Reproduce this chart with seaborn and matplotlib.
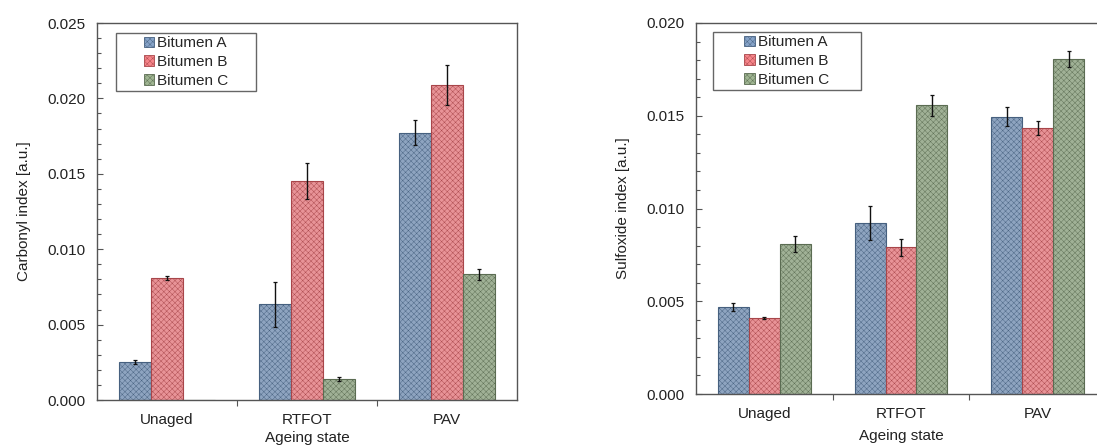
import numpy as np
import pandas as pd
import matplotlib
matplotlib.use("Agg")
import matplotlib.pyplot as plt
from matplotlib.patches import Rectangle, Patch
from matplotlib.ticker import MultipleLocator, FormatStrFormatter, FixedLocator
import seaborn as sns

# --- data -------------------------------------------------------------
states = ["Unaged", "RTFOT", "PAV"]
binders = ["Bitumen A", "Bitumen B", "Bitumen C"]

carbonyl_a = [0.00254, 0.00635, 0.01773]
carbonyl_b = [0.00810, 0.01452, 0.02089]
carbonyl_c = [0.0, 0.00139, 0.00834]
carbonyl_err_a = [0.00012, 0.00150, 0.00085]
carbonyl_err_b = [0.00015, 0.00120, 0.00130]
carbonyl_err_c = [np.nan, 0.00012, 0.00038]

sulfoxide_a = [0.00467, 0.00921, 0.01495]
sulfoxide_b = [0.00410, 0.00790, 0.01432]
sulfoxide_c = [0.00810, 0.01556, 0.01808]
sulfoxide_err_a = [0.00022, 0.00092, 0.00052]
sulfoxide_err_b = [0.00006, 0.00048, 0.00038]
sulfoxide_err_c = [0.00042, 0.00058, 0.00043]

colors = ["#86a3c8", "#f6858a", "#9fb592"]
edges = ["#46607f", "#a8464a", "#5b6c52"]


def long_table(a, b, c, ea, eb, ec):
    rows = []
    for name, vals, errs in zip(binders, (a, b, c), (ea, eb, ec)):
        for s, v, e in zip(states, vals, errs):
            rows.append({"state": s, "binder": name, "value": v, "err": e})
    return pd.DataFrame(rows)


carbonyl = long_table(carbonyl_a, carbonyl_b, carbonyl_c,
                      carbonyl_err_a, carbonyl_err_b, carbonyl_err_c)
sulfoxide = long_table(sulfoxide_a, sulfoxide_b, sulfoxide_c,
                       sulfoxide_err_a, sulfoxide_err_b, sulfoxide_err_c)

# --- style ------------------------------------------------------------
sns.set_style("ticks")
plt.rcParams["font.family"] = ["Liberation Sans", "DejaVu Sans"]
plt.rcParams["hatch.linewidth"] = 0.3
plt.rcParams["axes.edgecolor"] = "#555555"
plt.rcParams["axes.linewidth"] = 1.0

FS = 11
W, H = 1097, 448
fig = plt.figure(figsize=(W / 100, H / 100), dpi=100)
ax1 = fig.add_axes([97 / W, (H - 400) / H, 420 / W, 377 / H])
ax2 = fig.add_axes([696 / W, (H - 394) / H, 410 / W, 371 / H])


def draw(ax, df, ymax, ylabel, legend_box, xlabelpad):
    sns.barplot(data=df, x="state", y="value", hue="binder", order=states,
                hue_order=binders, palette=colors, errorbar=None,
                width=0.68, gap=0, linewidth=0.8,
                legend=False, ax=ax)
    for container, name, ec in zip(ax.containers, binders, edges):
        sub = df[df["binder"] == name].set_index("state").loc[states]
        for bar, v, e in zip(container, sub["value"], sub["err"]):
            bar.set_hatch("xxxxxx")
            bar.set_edgecolor(ec)
            if np.isfinite(e) and v > 0:
                cx = bar.get_x() + bar.get_width() / 2
                ax.errorbar(cx, v, yerr=e, fmt="none", ecolor="#111111",
                            elinewidth=1.0, capsize=1.6, capthick=0.9, zorder=5)

    ax.set_xlim(-0.5, 2.5)
    ax.set_ylim(0, ymax)
    ax.yaxis.set_major_locator(MultipleLocator(0.005))
    ax.yaxis.set_minor_locator(MultipleLocator(0.001))
    ax.yaxis.set_major_formatter(FormatStrFormatter("%.3f"))
    ax.tick_params(axis="y", which="major", direction="in", length=4,
                   width=0.8, color="#555555", labelsize=FS, pad=8,
                   labelcolor="#222222")
    ax.tick_params(axis="y", which="minor", direction="in", length=3,
                   width=0.8, color="#555555")
    ax.xaxis.set_minor_locator(FixedLocator([0.5, 1.5]))
    ax.tick_params(axis="x", which="major", length=0, labelsize=FS,
                   pad=9, labelcolor="#222222")
    ax.tick_params(axis="x", which="minor", direction="out", length=4,
                   width=0.8, color="#555555")
    ax.set_xlabel("Ageing state", fontsize=FS, labelpad=xlabelpad,
                  color="#222222")
    ax.set_ylabel(ylabel, fontsize=FS, labelpad=12, color="#222222")
    for sp in ax.spines.values():
        sp.set_visible(True)

    x0, y0, x1, y1 = legend_box
    ax.add_patch(Rectangle((x0, y0), x1 - x0, y1 - y0, transform=ax.transAxes,
                           facecolor="white", edgecolor="#666666",
                           linewidth=1.0, zorder=6))
    handles = [Patch(facecolor=c, edgecolor=ec, hatch="xxxxxx",
                     linewidth=0.6) for c, ec in zip(colors, edges)]
    ax.legend(handles, binders, loc="center",
              bbox_to_anchor=((x0 + x1) / 2, (y0 + y1) / 2),
              frameon=False, fontsize=FS, handlelength=0.7,
              handleheight=0.7, handletextpad=0.2, labelspacing=0.3,
              borderpad=0.0).set_zorder(7)


draw(ax1, carbonyl, 0.025, "Carbonyl index [a.u.]",
     (0.045, 0.820, 0.379, 0.973), 3)
draw(ax2, sulfoxide, 0.020, "Sulfoxide index [a.u.]",
     (0.041, 0.819, 0.402, 0.976), 6)

fig.savefig("out.png", dpi=100)
